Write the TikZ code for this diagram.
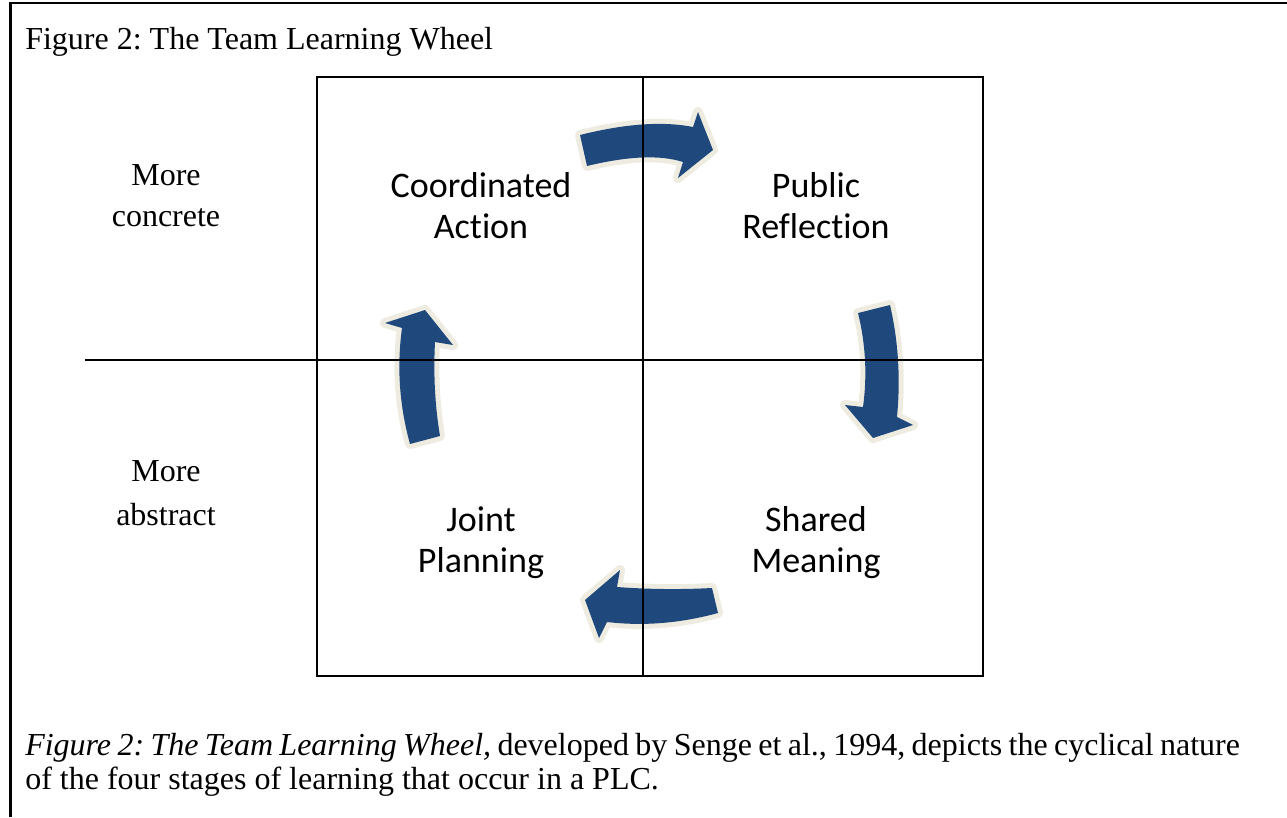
\documentclass[tikz,border=0pt]{standalone}
\usepackage{fontspec}
\setmainfont{Liberation Serif}
\newfontfamily\calibri[Ligatures=NoCommon]{Carlito}
\definecolor{arrowblue}{HTML}{1F497D}
\definecolor{arrowrim}{HTML}{EEECE1}
\frenchspacing
\begin{document}
\begin{tikzpicture}[x=0.75pt,y=-0.75pt,
  serif/.style={font=\fontsize{24}{28}\selectfont, inner sep=0pt},
  quad/.style={font=\calibri\fontsize{27}{31}\selectfont, inner sep=0pt, anchor=base},
  side/.style={serif, anchor=base},
  gridline/.style={line width=1.5pt, black},
  frameline/.style={line width=1.9pt, black},
  rim/.style={draw=arrowrim, line width=7.5pt, line join=round},
  body/.style={fill=arrowblue}]
\useasboundingbox (0,0) rectangle (1287,817);
% frame
\coordinate (fl) at (10.7,817);
\coordinate (ft) at (10.7,2.8);
\coordinate (fr) at (1287,2.8);
\draw[frameline] (fl) -- (ft) -- (fr);
% title
\node[serif, anchor=base west] (title) at (25,50) {Figure 2: The Team Learning Wheel};
% arrows: paths
\def\toparrow{(580,135) .. controls (625,123.7) and (662.7,121) .. (693,127) -- (698,112) -- (713,150) -- (678,178) -- (683,162) .. controls (660.3,154.7) and (628.3,156) .. (587,166) -- cycle}
\def\rightarrow{(858,313) -- (890,305) .. controls (898.3,341) and (900.7,378.3) .. (897,417) -- (913,425) -- (873,438) -- (845,405) -- (863,407) .. controls (867.3,375.7) and (865.7,344.3) .. cycle}
\def\leftarrow{(410,444) -- (440,436) .. controls (435,406) and (433.3,374.7) .. (435,342) -- (453,345) -- (425,310) -- (385,323) -- (402,328) .. controls (396.7,366.7) and (399.3,405.3) .. cycle}
\def\bottomarrow{(712,588) -- (718,613) .. controls (680.3,623.3) and (643.3,626.3) .. (607,622) -- (599,638) -- (585,600) -- (620,570) -- (617,587) .. controls (648,589.3) and (679.7,589.7) .. cycle}
\foreach \p in {\toparrow,\rightarrow,\leftarrow,\bottomarrow}{
  \draw[rim] \p;
  \fill[body] \p;
}
% grid
\coordinate (g1) at (317,77);
\coordinate (g2) at (983,676);
\coordinate (vt) at (643,77);
\coordinate (vb) at (643,676);
\coordinate (hl) at (85,360);
\coordinate (hr) at (983,360);
\draw[gridline] (g1) rectangle (g2);
\draw[gridline] (vt) -- (vb);
\draw[gridline] (hl) -- (hr);
% side labels
\node[side] (mc1) at (166,185) {More};
\node[side] (mc2) at (166,226) {concrete};
\node[side] (ma1) at (166,481) {More};
\node[side] (ma2) at (166,525) {abstract};
% quadrant labels
\node[quad] (ca1) at (481,197) {Coordinated};
\node[quad] (ca2) at (481,238) {Action};
\node[quad] (pr1) at (816,197) {Public};
\node[quad] (pr2) at (816,238) {Reflection};
\node[quad] (jp1) at (481,531) {Joint};
\node[quad] (jp2) at (481,572) {Planning};
\node[quad] (sm1) at (816,531) {Shared};
\node[quad] (sm2) at (816,572) {Meaning};
% caption
\node[serif, anchor=base west] (cap1) at (25,755) {\hbox to 911pt{\spaceskip=0.25em plus 0.1em minus 0.1em\textit{Figure 2: The Team Learning Wheel,} developed by Senge et al., 1994, depicts the cyclical nature}};
\node[serif, anchor=base west] (cap2) at (25,789) {of the four stages of learning that occur in a PLC.};
\end{tikzpicture}
\end{document}
